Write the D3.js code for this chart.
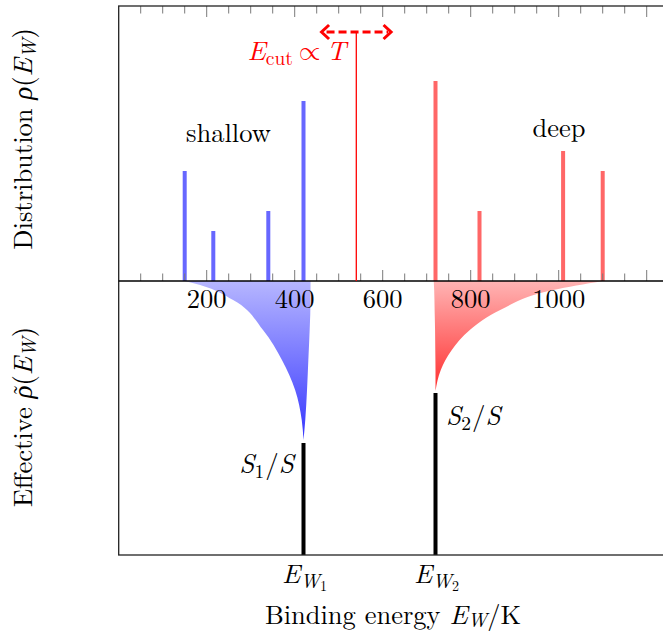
<!DOCTYPE html>
<html><head><meta charset="utf-8">
<script src="https://cdn.jsdelivr.net/npm/d3@7"></script>
<style>
html,body{margin:0;padding:0;background:#fff;}
svg{display:block;}
</style></head>
<body>
<script>
// ---------- data ----------
const shallowE   = [150, 215, 340, 420];
const shallowRho = [1.1, 0.5, 0.7, 1.8];
const deepE      = [720, 820, 1010, 1100];
const deepRho    = [2.0, 0.7, 1.3, 1.1];
const cutE = 540, cutHeight = 2.49, cutSwing = 79;
const tickLabels = [200, 400, 600, 800, 1000];
const effE   = [420, 720];
const effVal = [1.12, 1.62];
// effective-distribution envelopes (depth level, left edge E, right edge E)
const blueLevel = [2.74, 2.70, 2.55, 2.25, 1.95, 1.65, 1.35, 1.15];
const blueLeft  = [150, 185, 260, 328, 371, 401, 416, 420];
const blueRight = [436, 436, 436, 434, 431, 428, 424, 420];
const redLevel  = [2.74, 2.65, 2.45, 2.25, 2.05, 1.85, 1.64];
const redLeft   = [716, 717, 718, 719, 719.5, 720, 720];
const redRight  = [1100, 987, 867, 798, 757, 732, 720];

const W = 663, H = 632, FS = 26.5, MFS = 27, SUB = 19.5, SUBSUB = 14;
const svg = d3.select("body").append("svg").attr("width", W).attr("height", H)
  .attr("font-family", "'Latin Modern Roman', 'Liberation Serif', serif");
const x  = d3.scaleLinear().domain([0, 1250]).range([118.7, 668.7]);
const yU = d3.scaleLinear().domain([0, 2.75]).range([281, 6]);
const yL = d3.scaleLinear().domain([0, 2.74]).range([555, 281]);

const defs = svg.append("defs");
function grad(id, c0, c1, yTop, yBot) {
  const g = defs.append("linearGradient").attr("id", id)
    .attr("gradientUnits", "userSpaceOnUse").attr("x1", 0).attr("x2", 0)
    .attr("y1", yTop).attr("y2", yBot);
  g.append("stop").attr("offset", 0).attr("stop-color", c0);
  g.append("stop").attr("offset", 1).attr("stop-color", c1);
}
grad("gBlue", "#b6b6ff", "#3636ff", yL(2.74), yL(1.15));
grad("gRed", "#ffb4b4", "#ff2e2e", yL(2.74), yL(1.64));

// ---------- lower panel envelopes ----------
const area = d3.area().curve(d3.curveMonotoneY)
  .y(d => yL(d[0])).x0(d => x(d[1])).x1(d => x(d[2]));
svg.append("path").attr("d", area(blueLevel.map((v, i) => [v, blueLeft[i], blueRight[i]])))
  .attr("fill", "url(#gBlue)");
svg.append("path").attr("d", area(redLevel.map((v, i) => [v, redLeft[i], redRight[i]])))
  .attr("fill", "url(#gRed)");

// effective bars
svg.selectAll("rect.eff").data(effE).enter().append("rect")
  .attr("x", d => x(d) - 2).attr("width", 4)
  .attr("y", (d, i) => yL(effVal[i])).attr("height", (d, i) => yL(0) - yL(effVal[i]))
  .attr("fill", "#000");

// ---------- upper panel bars ----------
svg.selectAll("rect.sh").data(shallowE).enter().append("rect")
  .attr("x", d => x(d) - 2).attr("width", 4)
  .attr("y", (d, i) => yU(shallowRho[i])).attr("height", (d, i) => yU(0) - yU(shallowRho[i]))
  .attr("fill", "#6767ff");
svg.selectAll("rect.dp").data(deepE).enter().append("rect")
  .attr("x", d => x(d) - 2).attr("width", 4)
  .attr("y", (d, i) => yU(deepRho[i])).attr("height", (d, i) => yU(0) - yU(deepRho[i]))
  .attr("fill", "#ff6767");

// ---------- ticks ----------
const minor = d3.range(50, 1251, 50);
const isMajor = v => v % 200 === 0;
const tg = svg.append("g").attr("stroke", "#7a7a7a").attr("stroke-width", 1);
minor.forEach(v => {
  const L = isMajor(v) ? 11 : 7.5;
  tg.append("line").attr("x1", x(v)).attr("x2", x(v)).attr("y1", yU(2.75)).attr("y2", yU(2.75) + L);
  tg.append("line").attr("x1", x(v)).attr("x2", x(v)).attr("y1", yU(0)).attr("y2", yU(0) - L);
});

// ---------- frame & middle axis ----------
const fr = svg.append("g").attr("stroke", "#222").attr("stroke-width", 1.3).attr("fill", "none");
fr.append("rect").attr("x", x(0)).attr("y", yU(2.75)).attr("width", x(1250) - x(0)).attr("height", yL(0) - yU(2.75));
fr.append("line").attr("x1", x(0)).attr("x2", x(1250)).attr("y1", yU(0)).attr("y2", yU(0)).attr("stroke", "#000");

// tick labels
svg.selectAll("text.tl").data(tickLabels).enter().append("text")
  .attr("x", d => x(d)).attr("y", 308).attr("text-anchor", "middle")
  .attr("font-size", FS).attr("fill", "#000").text(d => d);

// ---------- cut line & arrow ----------
const red = "#ff0000";
svg.append("line").attr("x1", x(cutE)).attr("x2", x(cutE)).attr("y1", yU(0)).attr("y2", yU(cutHeight))
  .attr("stroke", red).attr("stroke-width", 1.3);
const ay = yU(cutHeight);
svg.append("line").attr("x1", x(cutE - cutSwing) + 3).attr("x2", x(cutE + cutSwing) - 3)
  .attr("y1", ay).attr("y2", ay).attr("stroke", red).attr("stroke-width", 3)
  .attr("stroke-dasharray", "8,4").attr("stroke-dashoffset", -2);
function head(xt, dir) {
  svg.append("path")
    .attr("d", `M${xt - dir * 7.5},${ay - 7} L${xt},${ay} L${xt - dir * 7.5},${ay + 7}`)
    .attr("fill", "none").attr("stroke", red).attr("stroke-width", 3)
    .attr("stroke-linejoin", "miter");
}
head(x(cutE - cutSwing), -1);
head(x(cutE + cutSwing), 1);

// E_cut label
const tc = svg.append("text").attr("x", 346).attr("y", 60).attr("text-anchor", "end")
  .attr("font-size", MFS).attr("fill", red);
tc.append("tspan").attr("font-style", "italic").text("E");
tc.append("tspan").attr("font-size", SUB).attr("dy", 5).text("cut");
tc.append("tspan").attr("dy", -5).attr("dx", 6)
  .attr("font-family", "'Latin Modern Math', 'STIX Two Math', 'DejaVu Serif'").attr("font-size", 28).text("∝");
tc.append("tspan").attr("dx", 6).attr("font-style", "italic").text("T");

// shallow / deep
svg.append("text").attr("x", 186).attr("y", 142).attr("font-size", FS).text("shallow");
svg.append("text").attr("x", 559).attr("y", 137).attr("text-anchor", "middle").attr("font-size", FS).text("deep");

// S labels
function sLabel(xp, yp, sub, anchor) {
  const t = svg.append("text").attr("x", xp).attr("y", yp).attr("font-size", MFS).attr("text-anchor", anchor);
  t.append("tspan").attr("font-style", "italic").text("S");
  t.append("tspan").attr("font-size", SUB).attr("dy", 5).text(sub);
  t.append("tspan").attr("dy", -5).attr("dx", 1).text("/");
  t.append("tspan").attr("font-style", "italic").text("S");
}
sLabel(294, 473, "1", "end");
sLabel(446, 425, "2", "start");

// E_W labels at bottom
function ewLabel(xp, sub) {
  const t = svg.append("text").attr("x", xp).attr("y", 583).attr("font-size", MFS).attr("text-anchor", "middle");
  t.append("tspan").attr("font-style", "italic").text("E");
  t.append("tspan").attr("font-style", "italic").attr("font-size", SUB).attr("dy", 5).text("W");
  t.append("tspan").attr("font-size", SUBSUB).attr("dy", 3).text(sub);
}
effE.forEach((e, i) => ewLabel(x(e) + 1, String(i + 1)));

// x label
const xl = svg.append("text").attr("x", 393).attr("y", 624).attr("text-anchor", "middle").attr("font-size", FS);
xl.append("tspan").text("Binding energy ");
xl.append("tspan").attr("font-style", "italic").attr("font-size", MFS).text("E");
xl.append("tspan").attr("font-style", "italic").attr("font-size", SUB).attr("dy", 3).text("W");
xl.append("tspan").attr("dy", -3).text("/K");

// y labels
function yLabel(cy, word, tilde) {
  const g = svg.append("g").attr("transform", `translate(32,${cy}) rotate(-90)`);
  const t = g.append("text").attr("text-anchor", "middle").attr("font-size", FS);
  t.append("tspan").text(word + " ");
  t.append("tspan").attr("font-style", "italic").attr("font-size", MFS).text("ρ");
  t.append("tspan").text("(");
  t.append("tspan").attr("font-style", "italic").attr("font-size", MFS).text("E");
  t.append("tspan").attr("font-style", "italic").attr("font-size", SUB).attr("dy", 4).text("W");
  t.append("tspan").attr("dy", -4).text(")");
  if (tilde) {
    const i = word.length + 1;
    const p0 = t.node().getStartPositionOfChar(i);
    const p1 = t.node().getEndPositionOfChar(i);
    g.append("text").attr("x", (p0.x + p1.x) / 2 + 2).attr("y", -2)
      .attr("text-anchor", "middle").attr("font-size", 24).text("\u02DC");
  }
}
yLabel(139, "Distribution", false);
yLabel(417, "Effective", true);
</script>
</body></html>
